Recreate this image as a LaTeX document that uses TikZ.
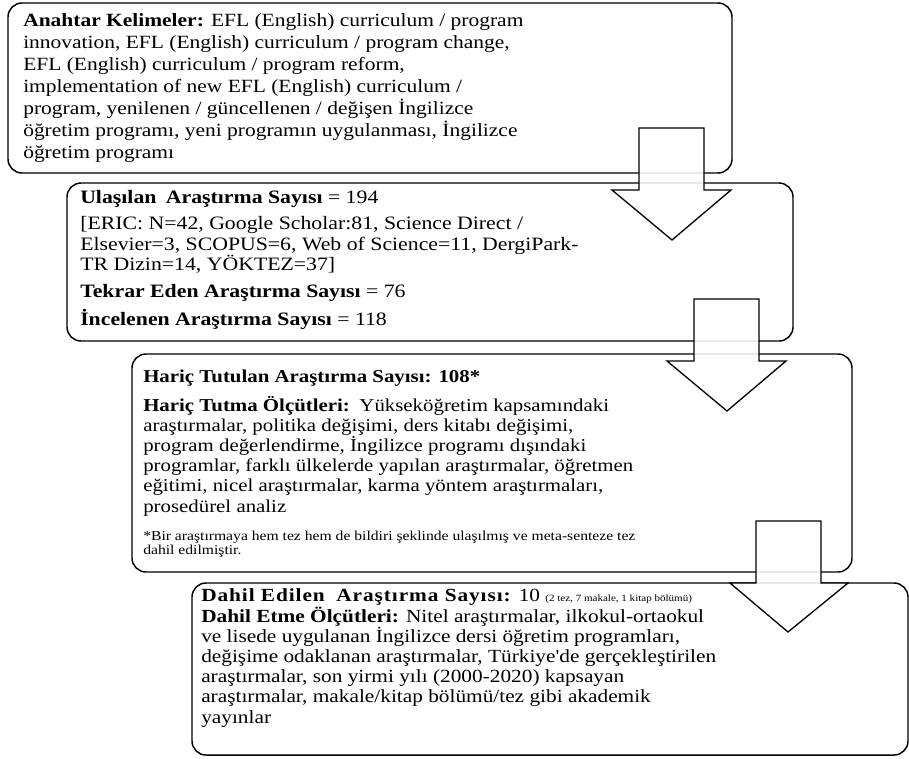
\documentclass[tikz,border=0pt]{standalone}
\usepackage{fontspec}
\setmainfont{Liberation Serif}[FakeStretch=1.15, Ligatures=TeXOff]
\begin{document}
\begin{tikzpicture}[x=0.75pt,y=-0.75pt,
  panel/.style={draw=black, line width=1.1pt, rounded corners=10.5pt},
  blockarrow/.style={draw=black, line width=1pt, fill=white, fill opacity=0.88, line join=miter},
  txt/.style={anchor=base west, inner sep=0pt, align=left}]
\useasboundingbox[fill=white] (0,0) rectangle (909,758);

% panels
\draw[panel] (8,3) rectangle (732,173);
\draw[panel] (67,183) rectangle (793,341);
\draw[panel] (132,354) rectangle (852,572);
\draw[panel] (192,583) rectangle (908,755);

% panel 1 text (anchored at the baseline of its last line)
\node[txt, font=\fontsize{14}{16.4}\selectfont] (kw) at (23,158) {\textbf{Anahtar Kelimeler:} EFL (English) curriculum / program\\
innovation, EFL (English) curriculum / program change,\\
EFL (English) curriculum / program reform,\\
implementation of new EFL (English) curriculum /\\
program, yenilenen / güncellenen / değişen İngilizce\\
öğretim programı, yeni programın uygulanması, İngilizce\\
öğretim programı};

% panel 2 text
\node[txt, font=\fontsize{14.2}{15.2}\selectfont] (found) at (80,325) {\textbf{Ulaşılan\hspace{3pt} Araştırma Sayısı} = 194\\[4.5pt]
[ERIC: N=42, Google Scholar:81, Science Direct /\\
Elsevier=3, SCOPUS=6, Web of Science=11, DergiPark-\\
TR Dizin=14, YÖKTEZ=37]\\[5pt]
\textbf{Tekrar Eden Araştırma Sayısı} = 76\\[4.5pt]
\textbf{İncelenen Araştırma Sayısı} = 118};

% panel 3 text
\node[txt, font=\fontsize{13.6}{15.15}\selectfont] (excl) at (143,512) {\textbf{Hariç Tutulan Araştırma Sayısı: 108*}\\[6.6pt]
\textbf{Hariç Tutma Ölçütleri:}\hspace{2pt} Yükseköğretim kapsamındaki\\
araştırmalar, politika değişimi, ders kitabı değişimi,\\
program değerlendirme, İngilizce programı dışındaki\\
programlar, farklı ülkelerde yapılan araştırmalar, öğretmen\\
eğitimi, nicel araştırmalar, karma yöntem araştırmaları,\\
prosedürel analiz};
\node[txt, font=\fontsize{10.2}{9.2}\selectfont] (note) at (143,554) {*Bir araştırmaya hem tez hem de bildiri şeklinde ulaşılmış ve meta-senteze tez\\
dahil edilmiştir.};

% panel 4 text
\node[txt, font=\fontsize{13.9}{15.15}\selectfont] (incl) at (201,723) {{\addfontfeatures{LetterSpace=5}\textbf{Dahil Edilen\hspace{4pt} Araştırma Sayısı:}} 10 {\fontsize{7.2}{8}\selectfont (2 tez, 7 makale, 1 kitap bölümü)}\\[0.5pt]
\textbf{Dahil Etme Ölçütleri:} Nitel araştırmalar, ilkokul-ortaokul\\
ve lisede uygulanan İngilizce dersi öğretim programları,\\
değişime odaklanan araştırmalar, Türkiye'de gerçekleştirilen\\
araştırmalar, son yirmi yılı (2000-2020) kapsayan\\
araştırmalar, makale/kitap bölümü/tez gibi akademik\\
yayınlar};

% block arrows
\draw[blockarrow] (639,128) -- (704,128) -- (704,190) -- (731,190) -- (672,240) -- (612,190) -- (639,190) -- cycle;
\draw[blockarrow] (694,299) -- (759,299) -- (759,361) -- (786,361) -- (727,411) -- (667,361) -- (694,361) -- cycle;
\draw[blockarrow] (756,521) -- (821,521) -- (821,583) -- (848,583) -- (788,632) -- (730,583) -- (756,583) -- cycle;
\end{tikzpicture}
\end{document}
